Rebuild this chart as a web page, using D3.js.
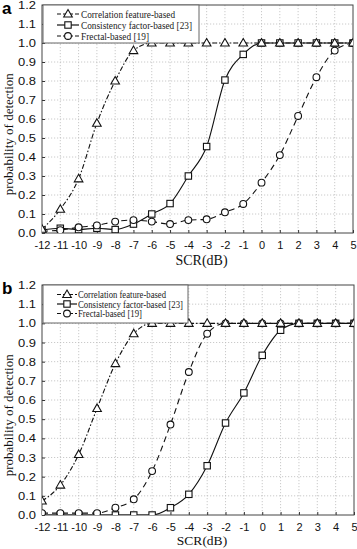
<!DOCTYPE html>
<html><head><meta charset="utf-8">
<script src="https://cdn.jsdelivr.net/npm/d3@7"></script>
<style>
html,body{margin:0;padding:0;background:#fff;}
svg{display:block;}
</style></head>
<body>
<svg id="chart" width="357" height="549"></svg>
<script>
// ---- data ----
const scr = [-12,-11,-10,-9,-8,-7,-6,-5,-4,-3,-2,-1,0,1,2,3,4,5];
const xTicks = [-12,-11,-10,-9,-8,-7,-6,-5,-4,-3,-2,-1,0,1,2,3,4,5];
const yTicks = [0,0.1,0.2,0.3,0.4,0.5,0.6,0.7,0.8,0.9,1.0,1.1,1.2];
const seriesNames = ["Correlation feature-based","Consistency factor-based [23]","Frectal-based [19]"];
// panel a
const aCorrelation = [0.02,0.125,0.285,0.578,0.80,0.96,1,1,1,1,1,1,1,1,1,1,1,1];
const aConsistency = [0.015,0.025,0.018,0.025,0.018,0.047,0.10,0.155,0.30,0.455,0.805,0.94,1,1,1,1,1,1];
const aFractal = [0.01,0.015,0.03,0.04,0.06,0.068,0.06,0.047,0.068,0.072,0.109,0.153,0.265,0.41,0.616,0.82,0.96,1.0];
// panel b
const bCorrelation = [0.073,0.156,0.316,0.556,0.79,0.946,1,1,1,1,1,1,1,1,1,1,1,1];
const bConsistency = [0,0,0,0,0,0,0,0.038,0.108,0.257,0.48,0.637,0.833,0.964,1,1,1,1];
const bFractal = [0.01,0.01,0.01,0.01,0.038,0.082,0.229,0.472,0.746,0.946,1,1,1,1,1,1,1,1];

const svg = d3.select("#chart");

function panel(opts){
  const {letter, x0, x1, yTop, yBot, corr, cons, frac, leg, titleDy, titleFs} = opts;
  const x = d3.scaleLinear().domain([-12,5]).range([x0,x1]);
  const y = d3.scaleLinear().domain([0,1.2]).range([yBot,yTop]);
  const g = svg.append("g");
  const cid = "clip"+letter;
  svg.append("clipPath").attr("id",cid).append("rect")
    .attr("x",x0).attr("y",yTop).attr("width",x1-x0).attr("height",yBot-yTop);

  // grid
  const grid = g.append("g").attr("stroke","#bdbdbd").attr("stroke-width",0.8).attr("stroke-dasharray","1.2,1.8");
  xTicks.slice(1,-1).forEach(t=>grid.append("line").attr("x1",x(t)).attr("x2",x(t)).attr("y1",yTop).attr("y2",yBot));
  yTicks.slice(1,-1).forEach(t=>grid.append("line").attr("x1",x0).attr("x2",x1).attr("y1",y(t)).attr("y2",y(t)));

  // axes (ticks inward)
  const xa = g.append("g").attr("transform",`translate(0,${yBot})`)
    .call(d3.axisBottom(x).tickValues(xTicks).tickSize(-3).tickPadding(8).tickFormat(d=>String(d)));
  xa.select(".domain").remove();
  xa.selectAll("text").attr("font-family","Liberation Sans, Arial, sans-serif").attr("font-size",11).attr("fill","#111");
  xa.selectAll("line").attr("stroke","#333");
  const ya = g.append("g").attr("transform",`translate(${x0},0)`)
    .call(d3.axisLeft(y).tickValues(yTicks).tickSize(-3).tickPadding(6).tickFormat(d3.format(".1f")));
  ya.select(".domain").remove();
  ya.selectAll("text").attr("font-family","Liberation Sans, Arial, sans-serif").attr("font-size",11)
    .attr("fill","#111").attr("textLength",18).attr("lengthAdjust","spacingAndGlyphs");
  ya.selectAll("line").attr("stroke","#333");

  // frame
  g.append("rect").attr("x",x0).attr("y",yTop).attr("width",x1-x0).attr("height",yBot-yTop)
    .attr("fill","none").attr("stroke","#444").attr("stroke-width",1);

  // series
  const line = d3.line().x((d,i)=>x(scr[i])).y(d=>y(d)).curve(d3.curveMonotoneX);
  const data = [
    {vals:cons, dash:null, marker:"square"},
    {vals:frac, dash:"6,4", marker:"circle"},
    {vals:corr, dash:"5,2,1.5,2", marker:"triangle"}
  ];
  const sg = g.append("g").attr("clip-path",`url(#${cid})`);
  data.forEach(s=>{
    sg.append("path").datum(s.vals).attr("d",line).attr("fill","none")
      .attr("stroke","#111").attr("stroke-width",1.1).attr("stroke-dasharray",s.dash);
  });
  data.forEach(s=>{
    s.vals.forEach((v,i)=>drawMarker(sg, s.marker, x(scr[i]), y(v)));
  });

  // legend
  const lg = g.append("g");
  lg.append("rect").attr("x",x0+1).attr("y",yTop).attr("width",leg.w).attr("height",leg.h)
    .attr("fill","#fff").attr("stroke","#666").attr("stroke-width",1);
  const legItems = [
    {name:seriesNames[0], dash:"5,2,1.5,2", marker:"triangle"},
    {name:seriesNames[1], dash:null, marker:"square"},
    {name:seriesNames[2], dash:"6,4", marker:"circle"}
  ];
  legItems.forEach((it,i)=>{
    const cy = yTop + leg.row0 + i*leg.dy;
    lg.append("line").attr("x1",leg.lx0).attr("x2",leg.lx1).attr("y1",cy).attr("y2",cy)
      .attr("stroke","#111").attr("stroke-width",1.2).attr("stroke-dasharray",it.dash ? "4,2" : null);
    drawMarker(lg, it.marker, (leg.lx0+leg.lx1)/2, cy);
    lg.append("text").attr("x",leg.tx).attr("y",cy+3.5).text(it.name)
      .attr("font-family","Liberation Serif, Times New Roman, serif").attr("font-size",leg.fs)
      .attr("fill","#222").attr("textLength",leg.tl[i]).attr("lengthAdjust","spacingAndGlyphs");
  });

  // titles
  g.append("text").attr("x",(x0+x1)/2+4).attr("y",yBot+titleDy).attr("text-anchor","middle")
    .attr("font-family","Liberation Serif, Times New Roman, serif").attr("font-size",titleFs).attr("fill","#111")
    .text("SCR(dB)");
  const ly = y(0.52);
  g.append("text").attr("transform",`translate(13,${ly}) rotate(-90)`).attr("text-anchor","middle")
    .attr("font-family","Liberation Serif, Times New Roman, serif").attr("font-size",13).attr("fill","#111")
    .text("probability of detection");
  g.append("text").attr("x",2).attr("y",yTop+9).attr("font-family","Liberation Sans, Arial, sans-serif")
    .attr("font-weight","bold").attr("font-size",17).attr("fill","#000").text(letter);
}

function drawMarker(parent, type, cx, cy){
  const st = {fill:"#fff", stroke:"#111", sw:1.1};
  if(type==="triangle"){
    parent.append("path").attr("d",`M${cx},${cy-4.5}L${cx+4.3},${cy+3}L${cx-4.3},${cy+3}Z`)
      .attr("fill",st.fill).attr("stroke",st.stroke).attr("stroke-width",st.sw);
  } else if(type==="square"){
    parent.append("rect").attr("x",cx-3.2).attr("y",cy-3.2).attr("width",6.4).attr("height",6.4)
      .attr("fill",st.fill).attr("stroke",st.stroke).attr("stroke-width",st.sw);
  } else {
    parent.append("circle").attr("cx",cx).attr("cy",cy).attr("r",3.4)
      .attr("fill",st.fill).attr("stroke",st.stroke).attr("stroke-width",st.sw);
  }
}

panel({letter:"a", x0:42, x1:353, yTop:5, yBot:233, corr:aCorrelation, cons:aConsistency, frac:aFractal,
  titleDy:32, titleFs:14,
  leg:{w:156, h:38, row0:9, dy:11, lx0:57, lx1:79, tx:81, fs:10.5, tl:[94,111,68]}});
panel({letter:"b", x0:42, x1:354, yTop:285, yBot:515, corr:bCorrelation, cons:bConsistency, frac:bFractal,
  titleDy:30, titleFs:13.5,
  leg:{w:145, h:38, row0:9.5, dy:9.5, lx0:57, lx1:77, tx:78, fs:10, tl:[88,105,64]}});
</script>
</body></html>
